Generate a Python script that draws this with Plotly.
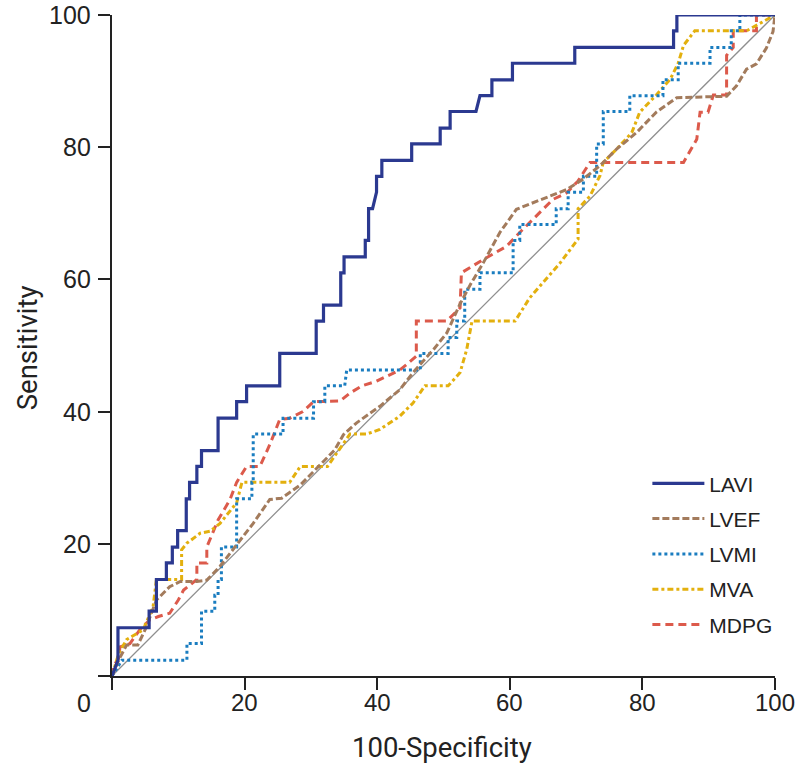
import plotly.graph_objects as go

# ---------------- data (100-Specificity, Sensitivity) ----------------
lavi_x = [0, 0.9, 0.9, 5.6, 5.6, 6.7, 6.7, 8.2, 8.2, 9.1, 9.1, 9.9, 9.9, 11.2, 11.2, 11.7, 11.7,
          12.8, 12.8, 13.5, 13.5, 16.0, 16.0, 18.8, 18.8, 20.3, 20.3, 25.3, 25.3, 30.8, 30.8,
          31.9, 31.9, 34.5, 34.5, 35.0, 35.0, 38.2, 38.2, 38.7, 38.7, 39.3, 39.9, 39.9, 40.7,
          40.7, 45.2, 45.2, 49.5, 49.5, 51.0, 51.0, 54.9, 55.5, 57.3, 57.3, 60.4, 60.4, 69.8,
          69.8, 84.7, 84.7, 85.2, 85.2, 100]
lavi_y = [0, 2.4, 7.3, 7.3, 9.8, 9.8, 14.6, 14.6, 17.1, 17.1, 19.5, 19.5, 22.0, 22.0, 26.8, 26.8, 29.3,
          29.3, 31.7, 31.7, 34.1, 34.1, 39.0, 39.0, 41.5, 41.5, 43.9, 43.9, 48.8, 48.8, 53.7,
          53.7, 56.1, 56.1, 61.0, 61.0, 63.4, 63.4, 65.9, 65.9, 70.7, 70.7, 73.2, 75.6, 75.6,
          78.0, 78.0, 80.5, 80.5, 82.9, 82.9, 85.4, 85.4, 87.8, 87.8, 90.2, 90.2, 92.7, 92.7,
          95.1, 95.1, 97.6, 97.6, 100, 100]

lvef_x = [0, 1.0, 2.2, 3.9, 5.0, 6.7, 8.7, 10.3, 12.8, 14.3, 16.3, 19.3, 21.3, 23.8, 25.6, 28.4,
          33.6, 34.9, 36.9, 40.4, 43.4, 45.4, 48.5, 50.5, 52.5, 54.1, 56.0, 58.5, 61.0, 63.0,
          66.1, 68.6, 71.1, 73.6, 76.1, 79.1, 82.1, 85.2, 92.7, 94.2, 95.7, 97.2, 98.7, 99.7, 100]
lvef_y = [0, 2.4, 4.7, 4.7, 7.0, 11.5, 13.5, 14.3, 14.3, 14.5, 16.6, 20.6, 23.1, 26.7, 26.9, 28.9,
          34.2, 36.5, 38.3, 40.8, 43.3, 45.9, 49.4, 51.9, 56.3, 59.3, 62.5, 67.1, 70.6, 71.4,
          72.6, 73.6, 75.2, 77.2, 79.7, 82.2, 85.3, 87.5, 87.7, 89.3, 91.8, 92.6, 95.0, 97.5, 100]

lvmi_x = [0, 1.5, 11.3, 11.3, 13.5, 13.5, 15.5, 15.5, 16.0, 16.0, 16.5, 16.5, 18.8, 18.8, 21.1, 21.1,
          21.3, 21.3, 25.8, 25.8, 30.4, 30.4, 32.1, 32.1, 35.1, 35.4, 46.5, 46.5, 50.7, 50.7,
          52.0, 52.0, 53.2, 53.2, 55.5, 55.5, 60.5, 60.5, 61.5, 61.5, 67.0, 67.0, 68.8, 68.8,
          71.1, 71.1, 73.1, 73.1, 74.1, 74.1, 78.1, 78.1, 83.1, 83.1, 85.4, 85.4, 90.2, 90.2,
          93.4, 93.4, 94.7, 94.7, 100]
lvmi_y = [0, 2.4, 2.4, 4.9, 4.9, 9.8, 9.8, 12.2, 12.2, 14.6, 14.6, 19.5, 19.5, 26.8, 26.8, 29.3,
          29.3, 36.6, 36.6, 39.0, 39.0, 41.5, 41.5, 43.9, 43.9, 46.3, 46.3, 48.8, 48.8, 51.2,
          51.2, 53.7, 53.7, 58.5, 58.5, 61.0, 61.0, 65.9, 65.9, 68.3, 68.3, 70.7, 70.7, 73.2,
          73.2, 75.6, 75.6, 80.5, 80.5, 85.4, 85.4, 87.8, 87.8, 90.2, 90.2, 92.7, 92.7, 95.1,
          95.1, 97.6, 97.6, 100, 100]

mva_x = [0, 1.0, 2.2, 4.7, 6.2, 6.7, 10.5, 10.5, 11.3, 13.3, 14.8, 16.3, 18.8, 19.6, 26.8, 28.4,
         32.5, 34.1, 35.9, 38.4, 40.4, 43.4, 45.4, 47.2, 50.7, 52.5, 53.5, 54.3, 60.8, 63.0,
         65.0, 67.6, 70.3, 70.3, 72.1, 73.6, 74.1, 76.1, 78.4, 79.6, 82.1, 84.2, 85.4, 86.2,
         87.9, 95.7, 100]
mva_y = [0, 3.4, 5.5, 7.0, 10.5, 14.6, 14.6, 19.1, 20.1, 21.6, 21.9, 23.1, 26.2, 29.3, 29.3, 31.7,
         31.7, 34.1, 36.6, 36.6, 37.3, 39.3, 41.3, 43.9, 43.9, 45.9, 49.4, 53.7, 53.7, 57.2,
         59.5, 62.5, 66.1, 70.7, 72.6, 75.7, 77.7, 79.7, 82.2, 85.3, 87.9, 90.3, 92.7, 95.4,
         97.6, 97.6, 100]

mdpg_x = [0, 0.2, 1.0, 1.2, 2.7, 4.2, 5.7, 7.0, 8.7, 10.0, 10.8, 12.8, 12.8, 14.3, 14.3, 16.0,
          17.8, 18.8, 20.3, 22.3, 23.8, 25.3, 26.8, 28.8, 30.4, 32.9, 34.4, 35.9, 37.7, 39.9,
          41.9, 43.4, 44.4, 45.9, 45.9, 50.5, 52.5, 52.7, 56.0, 59.5, 61.5, 64.5, 66.5, 68.6,
          70.3, 72.1, 86.2, 88.2, 88.7, 89.9, 90.7, 92.7, 92.7, 93.7, 93.7, 97.2, 97.2, 100]
mdpg_y = [0, 1.4, 2.7, 4.4, 4.9, 7.0, 8.5, 9.0, 9.5, 11.5, 13.0, 14.6, 17.1, 17.1, 19.5, 23.6,
          26.7, 29.3, 31.7, 31.7, 35.0, 38.8, 39.0, 40.0, 41.5, 41.5, 41.6, 42.8, 43.9, 44.6,
          45.6, 46.3, 47.1, 48.4, 53.7, 53.7, 55.7, 61.0, 63.0, 65.0, 67.1, 70.1, 72.1, 73.1,
          74.9, 77.7, 77.7, 81.2, 85.3, 85.3, 87.9, 87.9, 93.9, 95.1, 97.6, 97.6, 100, 100]

ref_x = [0, 100]
ref_y = [0, 100]

series_names = ["LAVI", "LVEF", "LVMI", "MVA", "MDPG"]
series_x = [lavi_x, lvef_x, lvmi_x, mva_x, mdpg_x]
series_y = [lavi_y, lvef_y, lvmi_y, mva_y, mdpg_y]
series_colors = ["#2b3990", "#a37b5c", "#1a7dc0", "#e3b00e", "#dc5a4b"]
series_dash = ["solid", "7px,3px", "3px,3px", "6px,3px,3px,3px", "8px,5px"]

tick_vals = [0, 20, 40, 60, 80, 100]
x_ticklabels = ["20", "40", "60", "80", "100"]
x_labelvals = [20, 40, 60, 80, 100]
y_ticklabels = ["20", "40", "60", "80", "100"]
y_labelvals = [20, 40, 60, 80, 100]
origin_label = "0"

for a, b in zip(series_x, series_y):
    assert len(a) == len(b)

fig = go.Figure()
fig.add_trace(go.Scatter(x=ref_x, y=ref_y, mode="lines", showlegend=False,
                         line=dict(color="#8f8f8f", width=1.3), hoverinfo="skip"))
draw_order = [4, 3, 2, 1, 0]
for i in draw_order:
    fig.add_trace(go.Scatter(
        x=series_x[i], y=series_y[i], mode="lines", name=series_names[i],
        line=dict(color=series_colors[i], width=3 if i else 3.2, dash=series_dash[i]),
        legendgroup=series_names[i], legendrank=i + 1, cliponaxis=False))

ytick_font = dict(family="Liberation Sans, Arial, sans-serif", size=25, color="#222")
xtick_font = dict(family="Liberation Sans, Arial, sans-serif", size=24, color="#222")
title_font = dict(family="Roboto, sans-serif", size=27.5, color="#222")

annotations = []
for v, t in zip(y_labelvals, y_ticklabels):
    annotations.append(dict(text=t, x=-0.0287, y=v, xref="paper", yref="y",
                            xanchor="right", yanchor="middle", showarrow=False, font=ytick_font))
for v, t in zip(x_labelvals, x_ticklabels):
    annotations.append(dict(text=t, x=v, y=-0.0408, xref="x", yref="paper",
                            xanchor="center", yanchor="middle", showarrow=False, font=xtick_font))
annotations += [
    dict(text=origin_label, x=-0.0287, y=-0.0408, xref="paper", yref="paper",
         xanchor="right", yanchor="middle", showarrow=False, font=ytick_font),
    dict(text="Sensitivity", x=-0.128, y=0.496, xref="paper", yref="paper", textangle=-90,
         xanchor="center", yanchor="middle", showarrow=False, font=title_font),
    dict(text="100-Specificity", x=0.498, y=-0.108, xref="paper", yref="paper",
         xanchor="center", yanchor="middle", showarrow=False, font=title_font),
]

fig.update_layout(
    width=797, height=768,
    margin=dict(l=112, r=22, t=15, b=92, autoexpand=False),
    paper_bgcolor="white", plot_bgcolor="white",
    showlegend=True,
    legend=dict(x=0.8075, xanchor="left", y=0.322, yanchor="top",
                font=dict(family="Liberation Sans, Arial, sans-serif", size=21, color="#222"),
                bgcolor="rgba(0,0,0,0)", borderwidth=0, itemwidth=52,
                traceorder="grouped", tracegroupgap=5),
    xaxis=dict(range=[0, 100], showgrid=False, zeroline=False, showline=True, automargin=False,
               linecolor="#222", linewidth=1.5, ticks="outside", ticklen=12, tickwidth=1.5,
               tickcolor="#222", tickvals=tick_vals, showticklabels=False),
    yaxis=dict(range=[0, 100], showgrid=False, zeroline=False, showline=True, automargin=False,
               linecolor="#222", linewidth=1.5, ticks="outside", ticklen=12, tickwidth=1.5,
               tickcolor="#222", tickvals=tick_vals, showticklabels=False),
    annotations=annotations,
)

fig.write_html("out.html", config={"displayModeBar": False},
               post_script="document.body.style.margin='0';")
